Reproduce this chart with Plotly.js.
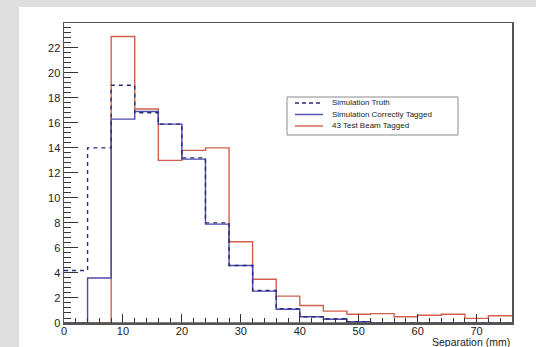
<!DOCTYPE html>
<html>
<head>
<meta charset="utf-8">
<script src="https://cdn.plot.ly/plotly-3.0.1.min.js"></script>
<style>html,body{margin:0;padding:0;background:#dedede;}#chart{width:536px;height:347px;}</style>
</head>
<body>
<div id="chart"></div>
<script>
// Bin edges of the histograms (mm)
const binEdges = [0,4,8,12,16,20,24,28,32,36,40,44,48,52,56,60,64,68,72,76];
// Bin contents (one value per bin)
const simTruth   = [4.2,14.0,19.0,16.8,15.9,13.2,8.0,4.6,2.6,1.15,0.5,0.35,0.1,0,0,0,0,0,0];
const simCorrect = [0,3.6,16.3,16.9,15.9,13.1,7.9,4.6,2.55,1.1,0.5,0.3,0.1,0,0,0,0,0,0];
const beamTagged = [0,0,22.9,17.1,13.0,13.8,14.0,6.5,3.5,2.15,1.4,0.95,0.7,0.75,0.5,0.62,0.7,0.37,0.58];
const seriesNames = ["Simulation Truth","Simulation Correctly Tagged","43 Test Beam Tagged"];
const yTickLabels = [0,2,4,6,8,10,12,14,16,18,20,22];
const xTickLabels = [0,10,20,30,40,50,60,70];
const xTitle = "Separation (mm)";

const colTruth = "#2b2b75", colCorrect = "#4b4bab", colBeam = "#d2604f";

function step(vals){ return vals.concat([vals[vals.length-1]]); }

const traces = [
  {x: binEdges, y: step(beamTagged), name: seriesNames[2], mode:"lines",
   line:{shape:"hv", color:colBeam, width:1.4}},
  {x: binEdges, y: step(simCorrect), name: seriesNames[1], mode:"lines",
   line:{shape:"hv", color:colCorrect, width:1.4}},
  {x: binEdges, y: step(simTruth), name: seriesNames[0], mode:"lines",
   line:{shape:"hv", color:colTruth, width:1.4, dash:"4px,4px"}}
];

// plot area in pixels: left 64, right 512, top 23, bottom 323
const L=64, R=512, T=23, B=323;
const px = v => (v-L)/(R-L);
const py = v => (B-v)/(B-T);

const font = {family:"Liberation Sans, Arial, Helvetica, sans-serif", size:11, color:"#222"};
const titleFont = {family:"Liberation Sans, Arial, Helvetica, sans-serif", size:10.5, color:"#222"};
const legFont = {family:"Liberation Sans, Arial, Helvetica, sans-serif", size:8, color:"#222"};

const legRows = [103, 114.5, 126];
const legendColors = [colTruth, colCorrect, colBeam];
const shapes = [
  {type:"rect", xref:"paper", yref:"paper", x0:px(19), x1:px(545), y0:py(360), y1:py(7),
   fillcolor:"#ffffff", line:{width:0}, layer:"below"},
  {type:"line", xref:"paper", yref:"paper", x0:0, x1:1, y0:0, y1:0,
   line:{color:"#555", width:1.5}, layer:"above"},
  {type:"rect", xref:"paper", yref:"paper", x0:px(287), x1:px(458), y0:py(135), y1:py(97),
   fillcolor:"#ffffff", line:{color:"#8a8a8a", width:1}}
];
const annotations = [
  {xref:"paper", yref:"paper", x:1, y:py(341.5), xanchor:"right", yanchor:"middle",
   text:xTitle, showarrow:false, font:titleFont}
];
legRows.forEach((yy,i)=>{
  shapes.push({type:"line", xref:"paper", yref:"paper", x0:px(295), x1:px(323), y0:py(yy), y1:py(yy),
    line:{color:legendColors[i], width:1.4, dash: i===0 ? "4px,3px" : "solid"}});
  annotations.push({xref:"paper", yref:"paper", x:px(330), y:py(yy-0.5), xanchor:"left", yanchor:"middle",
    text:seriesNames[i], showarrow:false, font:legFont});
});

const layout = {
  width:536, height:347,
  margin:{l:L, r:536-R, t:T, b:347-B, pad:0},
  paper_bgcolor:"#dedede", plot_bgcolor:"rgba(0,0,0,0)",
  showlegend:false,
  xaxis:{range:[0,76], tickvals:xTickLabels, ticktext:xTickLabels.map(String),
    ticks:"inside", ticklen:9, tickwidth:1, tickcolor:"#333", ticklabelstandoff:-3,
    minor:{dtick:2, tick0:0, ticks:"inside", ticklen:5, tickwidth:1, tickcolor:"#333", showgrid:false},
    showgrid:false, zeroline:false, showline:true, mirror:true, linecolor:"#555", linewidth:1.5,
    tickfont:font, fixedrange:true},
  yaxis:{range:[0,23.98], tickvals:yTickLabels, ticktext:yTickLabels.map(String),
    ticks:"inside", ticklen:14, tickwidth:1, tickcolor:"#333",
    minor:{dtick:0.4, tick0:0, ticks:"inside", ticklen:7, tickwidth:1, tickcolor:"#333", showgrid:false},
    showgrid:false, zeroline:false, showline:true, mirror:true, linecolor:"#555", linewidth:1.5,
    tickfont:font, fixedrange:true},
  shapes:shapes, annotations:annotations
};

Plotly.newPlot("chart", traces, layout, {staticPlot:true, displayModeBar:false});
</script>
</body>
</html>
